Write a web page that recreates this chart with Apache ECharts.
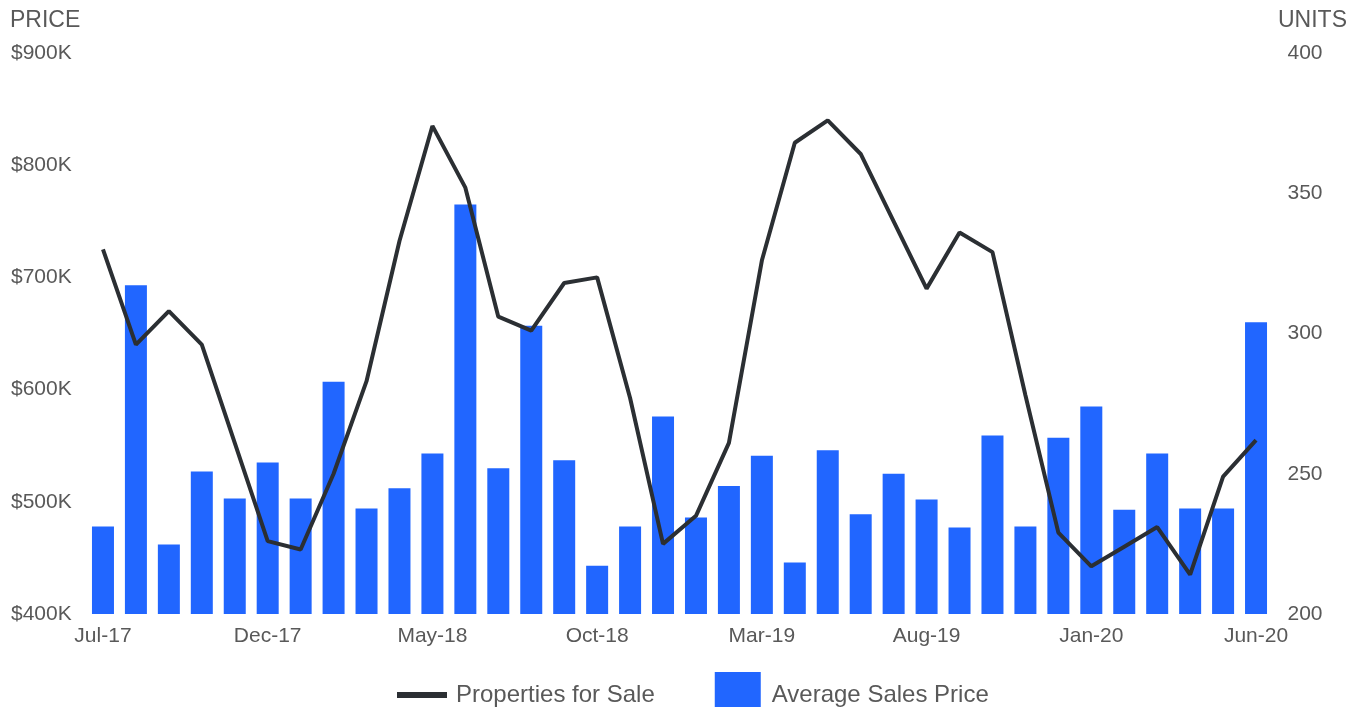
<!DOCTYPE html>
<html>
<head>
<meta charset="utf-8">
<script src="https://cdn.jsdelivr.net/npm/echarts@6/dist/echarts.min.js"></script>
<style>html,body{margin:0;padding:0;background:#fff}#c{width:1361px;height:707px}</style>
</head>
<body>
<div id="c"></div>
<script>
const months = ['Jul-17','Aug-17','Sep-17','Oct-17','Nov-17','Dec-17','Jan-18','Feb-18','Mar-18','Apr-18','May-18','Jun-18','Jul-18','Aug-18','Sep-18','Oct-18','Nov-18','Dec-18','Jan-19','Feb-19','Mar-19','Apr-19','May-19','Jun-19','Jul-19','Aug-19','Sep-19','Oct-19','Nov-19','Dec-19','Jan-20','Feb-20','Mar-20','Apr-20','May-20','Jun-20'];
const avgSalesPrice = [478000,693000,462000,527000,503000,535000,503000,607000,494000,512000,543000,765000,530000,657000,537000,443000,478000,576000,486000,514000,541000,446000,546000,489000,525000,502000,477000,559000,478000,557000,585000,493000,543000,494000,494000,660000];
const propertiesForSale = [330,296,308,296,261,226,223,250,283,333,374,352,306,301,318,320,277,225,235,261,326,368,376,364,340,316,336,329,278,229,217,224,231,214,249,262];
const priceTicks = {min:400000, max:900000, interval:100000};
const unitTicks = {min:200, max:400, interval:50};

const txt = '#595959';
const font = 'Liberation Sans, Arial, sans-serif';
const chart = echarts.init(document.getElementById('c'));
chart.setOption({
  animation:false,
  textStyle:{fontFamily:font},
  grid:{left:86.5, right:88.5, top:53, bottom:93, containLabel:false},
  graphic:[
    {type:'text', left:10, top:9, style:{text:'PRICE', fill:txt, font:'23px '+font}},
    {type:'text', right:14, top:9, style:{text:'UNITS', fill:txt, font:'23px '+font}}
  ],
  legend:{
    top:667, left:392, itemGap:58, itemWidth:50, itemHeight:46,
    textStyle:{color:txt, fontSize:24, fontFamily:font, padding:[0,0,0,4]},
    data:[
      {name:'Properties for Sale', icon:'path://M0,0M50,46M0,20L50,20L50,26L0,26Z', itemStyle:{color:'#2b2f33', borderWidth:0}},
      {name:'Average Sales Price', icon:'path://M0,0M50,46M2,0L48,0L48,46L2,46Z', itemStyle:{color:'#2166ff', borderWidth:0}}
    ]
  },
  xAxis:{
    type:'category', data:months,
    axisLine:{show:false}, axisTick:{show:false},
    axisLabel:{interval:4, color:txt, fontSize:21, margin:12, fontFamily:font}
  },
  yAxis:[
    {type:'value', min:priceTicks.min, max:priceTicks.max, interval:priceTicks.interval,
     splitLine:{show:false}, axisLine:{show:false}, axisTick:{show:false},
     axisLabel:{color:txt, fontSize:21, align:'left', margin:75.5, fontFamily:font,
       formatter:v=>'$'+(v/1000)+'K'}},
    {type:'value', min:unitTicks.min, max:unitTicks.max, interval:unitTicks.interval,
     splitLine:{show:false}, axisLine:{show:false}, axisTick:{show:false},
     axisLabel:{color:txt, fontSize:21, align:'left', margin:15, fontFamily:font}}
  ],
  series:[
    {name:'Average Sales Price', type:'bar', yAxisIndex:0, data:avgSalesPrice,
     barWidth:22, itemStyle:{color:'#2166ff'}, z:1},
    {name:'Properties for Sale', type:'line', yAxisIndex:1, data:propertiesForSale,
     symbol:'none', lineStyle:{color:'#2b2f33', width:4}, itemStyle:{color:'#2b2f33', borderWidth:0}, z:2}
  ]
});
</script>
</body>
</html>
